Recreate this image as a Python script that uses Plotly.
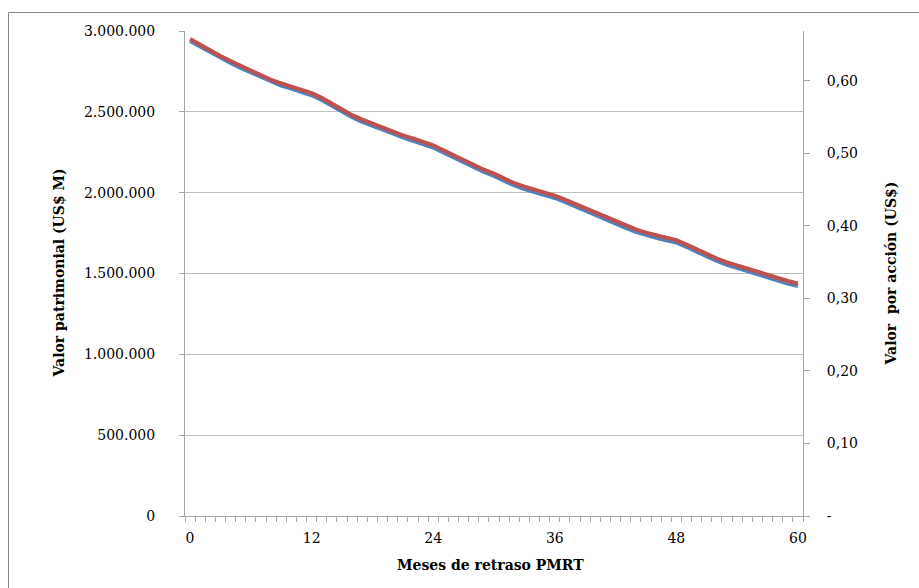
import plotly.graph_objects as go

months = list(range(0, 61))

valor_patrimonial = [
    2938000, 2902300, 2867000, 2833000, 2802100, 2771100, 2743300, 2712400, 2684500, 2662900,
    2644300, 2622700, 2602300, 2573200, 2536100, 2499000, 2466200, 2438400, 2412400, 2388900,
    2366000, 2341300, 2322700, 2302900, 2279400, 2248500, 2217500, 2186600, 2156900, 2127900,
    2103100, 2072200, 2044300, 2022700, 2006000, 1989900, 1967000, 1942300, 1915700, 1886600,
    1858800, 1830900, 1806200, 1781500, 1757900, 1738200, 1720800, 1705400, 1691800, 1663900,
    1633000, 1605200, 1577300, 1553800, 1534000, 1514200, 1493800, 1472200, 1453600, 1438100,
    1422700,
]

valor_por_accion = [
    0.6575, 0.6495, 0.6417, 0.6341, 0.6272, 0.6203, 0.6142, 0.6073, 0.6011, 0.5963,
    0.5921, 0.5873, 0.5828, 0.5763, 0.5681, 0.5598, 0.5525, 0.5463, 0.5406, 0.5353,
    0.5302, 0.5247, 0.5206, 0.5162, 0.5110, 0.5041, 0.4972, 0.4904, 0.4838, 0.4773,
    0.4718, 0.4649, 0.4587, 0.4539, 0.4502, 0.4466, 0.4415, 0.4360, 0.4301, 0.4237,
    0.4175, 0.4113, 0.4058, 0.4003, 0.3950, 0.3906, 0.3868, 0.3833, 0.3803, 0.3741,
    0.3673, 0.3611, 0.3549, 0.3496, 0.3452, 0.3408, 0.3363, 0.3315, 0.3274, 0.3239,
    0.3205,
]

x_tickvals = [0, 12, 24, 36, 48, 60]
x_ticktext = ["0", "12", "24", "36", "48", "60"]
left_tickvals = [0, 500000, 1000000, 1500000, 2000000, 2500000, 3000000]
left_ticktext = ["0", "500.000", "1.000.000", "1.500.000", "2.000.000", "2.500.000", "3.000.000"]
right_tickvals = [0, 0.1, 0.2, 0.3, 0.4, 0.5, 0.6]
right_ticktext = ["-", "0,10", "0,20", "0,30", "0,40", "0,50", "0,60"]

x_title = "Meses de retraso PMRT"
left_title = "Valor patrimonial (US$ M)"
right_title = "Valor\u00a0 por acción (US$)"

FONT = "DejaVu Serif"
AXIS_GRAY = "#A6A6A6"
GRID_GRAY = "#BFBFBF"

fig = go.Figure()
fig.add_trace(go.Scatter(
    x=months, y=valor_patrimonial, mode="lines",
    line=dict(color="#4F81BD", width=4, shape="linear"),
    name="Valor patrimonial", yaxis="y",
))
fig.add_trace(go.Scatter(
    x=months, y=valor_por_accion, mode="lines",
    line=dict(color="#C0504D", width=4, shape="linear"),
    name="Valor por acción", yaxis="y2",
))

W, H = 919, 588
L, R, T, B = 185, 116, 31, 72
pw = W - L - R
ph = H - T - B

def px_x(px):
    return (px - L) / pw

def px_y(py):
    return (H - B - py) / ph

fig.update_layout(
    width=W, height=H,
    margin=dict(l=L, r=R, t=T, b=B, autoexpand=False),
    paper_bgcolor="white", plot_bgcolor="white",
    showlegend=False,
    font=dict(family=FONT, size=14, color="#000000"),
    xaxis=dict(
        range=[-0.5, 60.5], tickmode="array", tickvals=x_tickvals, ticktext=x_ticktext,
        ticks="", showgrid=False, zeroline=False,
        showline=True, linecolor=AXIS_GRAY, linewidth=1,
        tickfont=dict(family=FONT, size=14),
        ticklabelstandoff=9,
        minor=dict(tickmode="linear", tick0=-0.5, dtick=1, ticks="outside",
                   ticklen=5, tickcolor=AXIS_GRAY, tickwidth=1, showgrid=False),
    ),
    yaxis=dict(
        range=[0, 3000000], tickmode="array", tickvals=left_tickvals, ticktext=left_ticktext,
        ticks="outside", ticklen=5, tickcolor=AXIS_GRAY,
        showgrid=True, gridcolor=GRID_GRAY, gridwidth=1, zeroline=False,
        showline=True, linecolor=AXIS_GRAY, linewidth=1,
        tickfont=dict(family=FONT, size=14),
        ticklabelstandoff=21,
    ),
    yaxis2=dict(
        range=[0, 0.6685], overlaying="y", side="right",
        tickmode="array", tickvals=right_tickvals, ticktext=right_ticktext,
        ticks="outside", ticklen=6, tickcolor=AXIS_GRAY,
        showgrid=False, zeroline=False,
        showline=True, linecolor=AXIS_GRAY, linewidth=1,
        tickfont=dict(family=FONT, size=14),
        ticklabelstandoff=14,
    ),
)

fig.add_annotation(text="<b>" + x_title + "</b>", xref="paper", yref="paper",
                   x=px_x(490), y=px_y(565), xanchor="center", yanchor="middle",
                   showarrow=False, font=dict(family=FONT, size=14))
fig.add_annotation(text="<b>" + left_title + "</b>", xref="paper", yref="paper",
                   x=px_x(58), y=0.5, xanchor="center", yanchor="middle", textangle=-90,
                   showarrow=False, font=dict(family=FONT, size=14))
fig.add_annotation(text="<b>" + right_title + "</b>", xref="paper", yref="paper",
                   x=px_x(890), y=0.5, xanchor="center", yanchor="middle", textangle=-90,
                   showarrow=False, font=dict(family=FONT, size=14))

fig.add_shape(type="rect", xref="paper", yref="paper",
              x0=px_x(8.5), x1=px_x(960), y0=px_y(640), y1=px_y(12.5),
              line=dict(color="#888888", width=1), fillcolor="rgba(0,0,0,0)", layer="below")

fig.write_html("out.html")
